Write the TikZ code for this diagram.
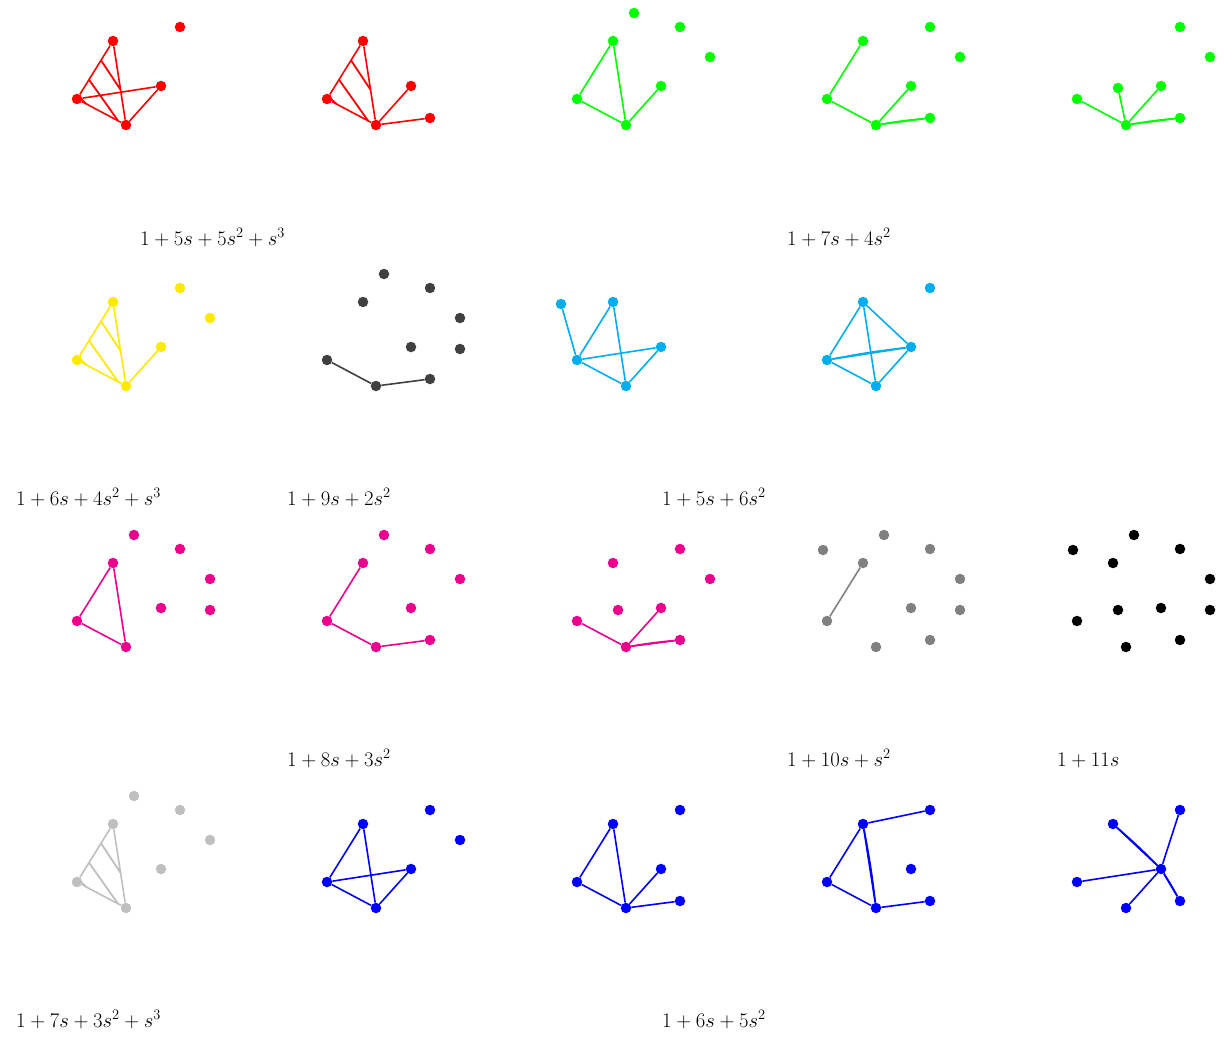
\documentclass[tikz,border=0pt]{standalone}
\usetikzlibrary{calc}
\definecolor{cRed}{RGB}{255,0,0}
\definecolor{cGreen}{RGB}{0,255,0}
\definecolor{cYellow}{RGB}{255,233,0}
\definecolor{cDark}{RGB}{64,64,64}
\definecolor{cCyan}{RGB}{0,174,239}
\definecolor{cMag}{RGB}{236,0,140}
\definecolor{cGray}{RGB}{128,128,128}
\definecolor{cBlack}{RGB}{0,0,0}
\definecolor{cLight}{RGB}{191,191,191}
\definecolor{cBlue}{RGB}{0,0,255}
\colorlet{pc}{black}
\tikzset{
  vdot/.style={circle,fill=pc,draw=none,inner sep=0pt,minimum size=10.5pt},
  link/.style={draw=pc,line width=1.6pt},
  hatchline/.style={draw=pc,line width=1.8pt},
  lbl/.style={anchor=base west,inner sep=0pt,font=\fontsize{19.5}{23}\selectfont}
}
\newcommand\pnodes[2]{%
  \foreach \n in {#2}{%
    \pgfmathsetmacro\xx{{134,73,180,113,210,77,118,161,210,126,180,61}[\n-1]}%
    \pgfmathsetmacro\yy{{13,28,27,41,57,99,88,86,88,125,118,43}[\n-1]}%
    \node[vdot] (#1-\n) at (\xx,\yy) {};}}
\newcommand\pedges[2]{\foreach \a/\b in {#2}{\draw[link] (#1-\a) -- (#1-\b);}}
\newcommand\pdouble[2]{\foreach \a/\b in {#2}{\draw[link] (#1-\a) -- (#1-\b);\draw[link] (#1-\a) to[bend left=2] (#1-\b);}}
\newcommand\phatch[1]{%
  \draw[hatchline] ($(#1-4)!1/3!(#1-6)$) -- ($(#1-4)!0.58!(#1-10)$);
  \draw[hatchline] ($(#1-4)!2/3!(#1-6)$) -- ($(#1-6)!0.84!(#1-10)$);
  \draw[hatchline] ($(#1-4)!0.96!(#1-6)$) -- ($(#1-6)!0.2!(#1-10)$);}
\begin{document}
\begin{tikzpicture}[x=1pt,y=-1pt]
\useasboundingbox (0,0) rectangle (1226,1046);
% ---------- row 0
\begin{scope}[shift={(0,0)}]\colorlet{pc}{cRed}
  \pnodes{A}{3,4,6,8,10}\pedges{A}{4/6,4/10,6/10,6/8,8/10}\phatch{A}
\end{scope}
\begin{scope}[shift={(250,0)}]\colorlet{pc}{cRed}
  \pnodes{B}{4,6,8,10,11}\pedges{B}{4/6,4/10,6/10,8/10,10/11}\phatch{B}
\end{scope}
\begin{scope}[shift={(500,0)}]\colorlet{pc}{cGreen}
  \pnodes{C}{1,3,5,4,6,8,10}\pedges{C}{4/6,4/10,6/10,8/10}
\end{scope}
\begin{scope}[shift={(750,0)}]\colorlet{pc}{cGreen}
  \pnodes{D}{3,5,4,6,8,10,11}\pedges{D}{4/6,6/10,8/10}\pdouble{D}{10/11}
\end{scope}
\begin{scope}[shift={(1000,0)}]\colorlet{pc}{cGreen}
  \pnodes{E}{3,5,6,7,8,10,11}\pedges{E}{6/10,7/10,8/10}\pdouble{E}{10/11}
\end{scope}
% ---------- row 1
\begin{scope}[shift={(0,261)}]\colorlet{pc}{cYellow}
  \pnodes{F}{4,3,5,6,8,10}\pedges{F}{4/6,4/10,6/10,8/10}\phatch{F}
\end{scope}
\begin{scope}[shift={(250,261)}]\colorlet{pc}{cDark}
  \pnodes{G}{1,4,3,5,8,9,6,10,11}\pedges{G}{6/10,10/11}
\end{scope}
\begin{scope}[shift={(500,261)}]\colorlet{pc}{cCyan}
  \pnodes{H}{12,4,6,8,10}\pedges{H}{12/6,4/6,4/10,6/8,6/10,8/10}
\end{scope}
\begin{scope}[shift={(750,261)}]\colorlet{pc}{cCyan}
  \pnodes{I}{4,3,6,8,10}\pedges{I}{4/6,4/8,4/10,6/10,8/10}\pdouble{I}{6/8}
\end{scope}
% ---------- row 2
\begin{scope}[shift={(0,522)}]\colorlet{pc}{cMag}
  \pnodes{J}{1,3,5,4,8,9,6,10}\pedges{J}{4/6,4/10,6/10}
\end{scope}
\begin{scope}[shift={(250,522)}]\colorlet{pc}{cMag}
  \pnodes{K}{1,3,5,4,8,6,10,11}\pedges{K}{4/6,6/10,10/11}
\end{scope}
\begin{scope}[shift={(500,522)}]\colorlet{pc}{cMag}
  \pnodes{L}{4,3,5,7,8,6,10,11}\pedges{L}{6/10,8/10}\pdouble{L}{10/11}
\end{scope}
\begin{scope}[shift={(750,522)}]\colorlet{pc}{cGray}
  \pnodes{M}{2,1,3,4,5,6,8,9,10,11}\pedges{M}{4/6}
\end{scope}
\begin{scope}[shift={(1000,522)}]\colorlet{pc}{cBlack}
  \pnodes{N}{1,2,3,4,5,6,7,8,9,10,11}
\end{scope}
% ---------- row 3
\begin{scope}[shift={(0,783)}]\colorlet{pc}{cLight}
  \pnodes{O}{1,3,5,4,8,6,10}\pedges{O}{4/6,4/10,6/10}\phatch{O}
\end{scope}
\begin{scope}[shift={(250,783)}]\colorlet{pc}{cBlue}
  \pnodes{P}{3,5,4,6,8,10}\pedges{P}{4/6,4/10,6/8,6/10,8/10}
\end{scope}
\begin{scope}[shift={(500,783)}]\colorlet{pc}{cBlue}
  \pnodes{Q}{3,4,6,8,10,11}\pedges{Q}{4/6,4/10,6/10,8/10,10/11}
\end{scope}
\begin{scope}[shift={(750,783)}]\colorlet{pc}{cBlue}
  \pnodes{R}{3,4,6,8,10,11}\pedges{R}{4/3,4/6,6/10,10/11}\pdouble{R}{4/10}
\end{scope}
\begin{scope}[shift={(1000,783)}]\colorlet{pc}{cBlue}
  \pnodes{S}{4,3,6,8,10,11}\pedges{S}{3/8,6/8,10/8}\pdouble{S}{4/8,8/11}
\end{scope}
% ---------- labels
\node[lbl] (l1) at (140,245) {$1+5s+5s^2+s^3$};
\node[lbl] (l2) at (787,245) {$1+7s+4s^2$};
\node[lbl] (l3) at (16,505) {$1+6s+4s^2+s^3$};
\node[lbl] (l4) at (287,505) {$1+9s+2s^2$};
\node[lbl] (l5) at (662,505) {$1+5s+6s^2$};
\node[lbl] (l6) at (287,766) {$1+8s+3s^2$};
\node[lbl] (l7) at (787,766) {$1+10s+s^2$};
\node[lbl] (l8) at (1057,766) {$1+11s$};
\node[lbl] (l9) at (16,1027) {$1+7s+3s^2+s^3$};
\node[lbl] (l10) at (662,1027) {$1+6s+5s^2$};
\end{tikzpicture}
\end{document}
